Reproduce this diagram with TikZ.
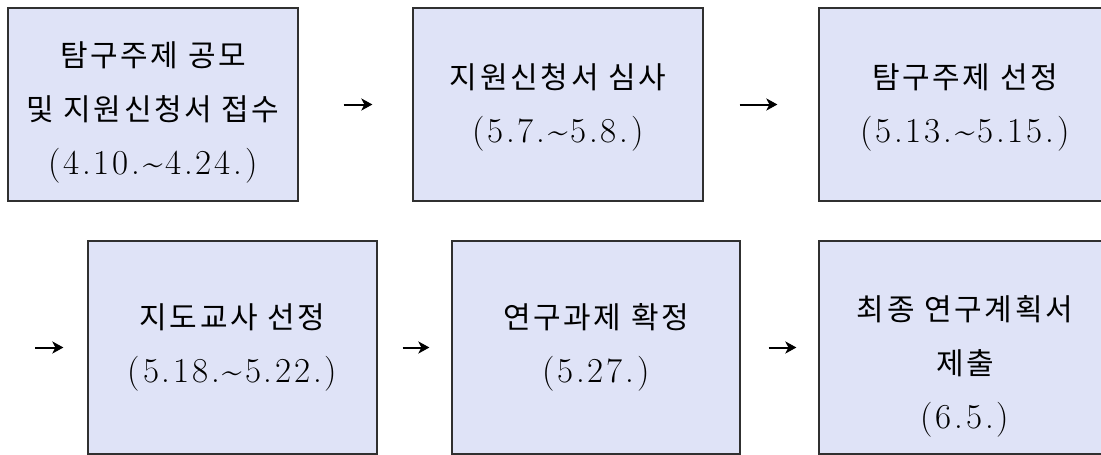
\documentclass[tikz,border=0pt]{standalone}
\usepackage{fontspec}
\usetikzlibrary{arrows.meta}
\newfontfamily\kr[LetterSpace=9]{Noto Sans CJK KR}
\newfontfamily\digits[LetterSpace=8]{Latin Modern Roman}
\newcommand\hg[1]{{\kr\fontsize{30}{54}\selectfont #1}}
\newcommand\dt[1]{{\digits\fontsize{35}{54}\selectfont #1}}
\newcommand\lift[1]{\rule{0pt}{#1pt}}
\definecolor{boxfill}{HTML}{DFE3F7}
\definecolor{boxline}{HTML}{303030}
\tikzset{
  stagebox/.style={draw=boxline, fill=boxfill, line width=1.2pt, align=center,
    inner sep=0pt, font=\fontsize{30}{54}\selectfont},
  flowarrow/.style={line width=2pt, -{Stealth[length=11pt,width=12pt,inset=3pt]}}
}
\begin{document}
\begin{tikzpicture}[x=1pt,y=-1pt]
\clip (0,0) rectangle (1101,455);
\fill[white] (0,0) rectangle (1101,455);
% row 1
\node[stagebox, minimum width=290pt, minimum height=193pt] (b1) at (153,104.5)
  {\lift{40}\hg{탐구주제 공모}\\ \hg{및 지원신청서 접수}\\ \dt{(4.10.\textasciitilde 4.24.)}};
\node[stagebox, minimum width=290pt, minimum height=193pt] (b2) at (558,104.5)
  {\lift{30}\hg{지원신청서 심사}\\ \dt{(5.7.\textasciitilde 5.8.)}};
\node[stagebox, minimum width=292pt, minimum height=193pt] (b3) at (965,104.5)
  {\lift{30}\hg{탐구주제 선정}\\ \dt{(5.13.\textasciitilde 5.15.)}};
% row 2
\node[stagebox, minimum width=289pt, minimum height=213pt] (b4) at (232.5,347.5)
  {\hg{지도교사 선정}\\ \dt{(5.18.\textasciitilde 5.22.)}};
\node[stagebox, minimum width=288pt, minimum height=213pt] (b5) at (596,347.5)
  {\hg{연구과제 확정}\\ \dt{(5.27.)}};
\node[stagebox, minimum width=292pt, minimum height=213pt] (b6) at (965,347.5)
  {\lift{62}\hg{최종 연구계획서}\\ \hg{제출}\\ \dt{(6.5.)}};
\coordinate (s) at (35,347.5);
% arrows
\draw[flowarrow, shorten <=45pt, shorten >=40pt] (b1) -- (b2);
\draw[flowarrow, shorten <=36pt, shorten >=41pt] (b2) -- (b3);
\draw[flowarrow, shorten >=24pt] (s) -- (b4);
\draw[flowarrow, shorten <=25pt, shorten >=22pt] (b4) -- (b5);
\draw[flowarrow, shorten <=28pt, shorten >=22pt] (b5) -- (b6);
\end{tikzpicture}
\end{document}
